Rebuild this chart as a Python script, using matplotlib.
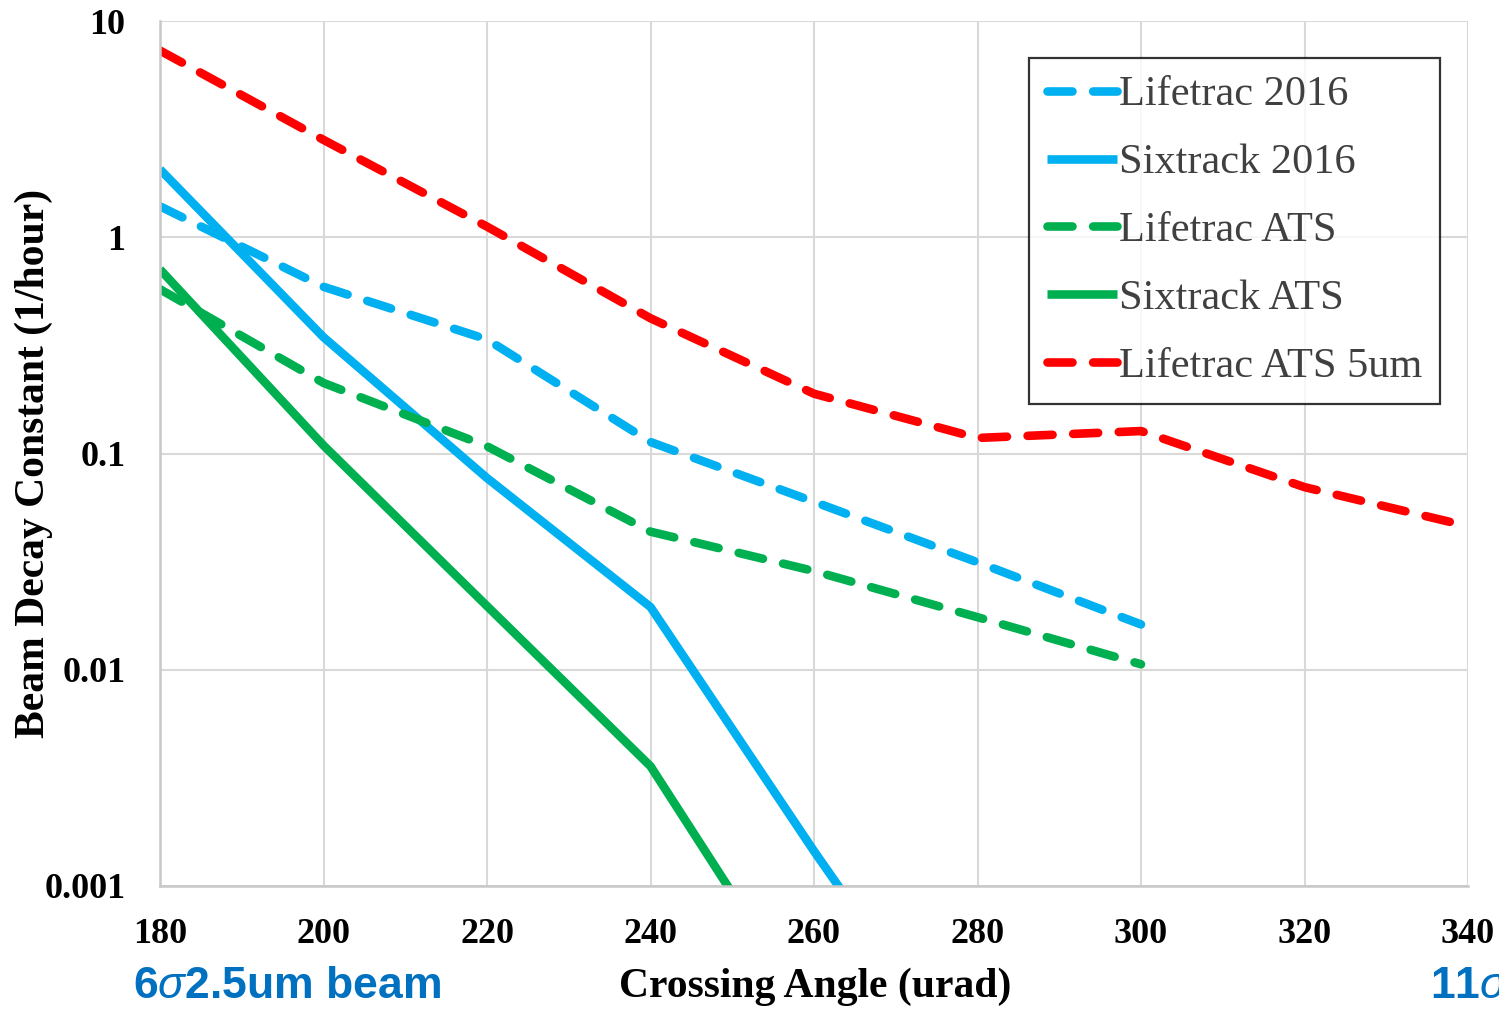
import matplotlib
matplotlib.use("Agg")
import matplotlib.pyplot as plt
import numpy as np

# ---- data ----
angles = [180, 200, 220, 240, 260, 280, 300, 320, 340]

lifetrac_2016_x = [180, 200, 220, 240, 260, 280, 300]
lifetrac_2016 = [1.39, 0.59, 0.337, 0.113, 0.0598, 0.0314, 0.0162]

sixtrack_2016_x = [180, 200, 220, 240, 260, 280]
sixtrack_2016 = [2.06, 0.345, 0.077, 0.0195, 0.00145, 0.00012]

lifetrac_ats_x = [180, 200, 220, 240, 260, 280, 300]
lifetrac_ats = [0.575, 0.212, 0.108, 0.0435, 0.0286, 0.0175, 0.0106]

sixtrack_ats_x = [180, 200, 220, 240, 260]
sixtrack_ats = [0.71, 0.109, 0.0197, 0.00358, 0.00024]

lifetrac_ats5_x = [180, 200, 220, 240, 260, 280, 300, 320, 340]
lifetrac_ats5 = [7.3, 2.82, 1.12, 0.422, 0.189, 0.118, 0.127, 0.0699, 0.0461]

series_labels = ["Lifetrac 2016", "Sixtrack 2016", "Lifetrac ATS",
                 "Sixtrack ATS", "Lifetrac ATS 5um"]
y_ticks = [0.001, 0.01, 0.1, 1, 10]
y_tick_labels = ["0.001", "0.01", "0.1", "1", "10"]
x_ticks = angles

BLUE = "#00B0F0"
GREEN = "#00B050"
RED = "#FF0000"

plt.rcParams["mathtext.fontset"] = "custom"
plt.rcParams["mathtext.it"] = "Liberation Sans:italic"
plt.rcParams["mathtext.rm"] = "Liberation Sans:bold"

W, H = 1499, 1009
fig = plt.figure(figsize=(W / 100, H / 100), dpi=100)
ax = fig.add_axes([160 / W, 1 - 886 / H, (1468 - 160) / W, (886 - 21) / H])

lw = 6.2
dash = (0, (2.9, 2.4))
common = dict(linewidth=lw, dash_capstyle="round", solid_capstyle="butt",
              solid_joinstyle="round")

ax.plot(lifetrac_2016_x, lifetrac_2016, color=BLUE, linestyle=dash,
        label=series_labels[0], **common)
ax.plot(sixtrack_2016_x, sixtrack_2016, color=BLUE, linestyle="-",
        label=series_labels[1], **common)
ax.plot(lifetrac_ats_x, lifetrac_ats, color=GREEN, linestyle=dash,
        label=series_labels[2], **common)
ax.plot(sixtrack_ats_x, sixtrack_ats, color=GREEN, linestyle="-",
        label=series_labels[3], **common)
ax.plot(lifetrac_ats5_x, lifetrac_ats5, color=RED, linestyle=dash,
        label=series_labels[4], **common)

ax.set_yscale("log")
ax.set_xlim(180, 340)
ax.set_ylim(0.001, 10)
ax.set_xticks(x_ticks)
ax.set_xticklabels([str(v) for v in x_ticks])
ax.set_yticks(y_ticks)
ax.set_yticklabels(y_tick_labels)
ax.yaxis.set_minor_locator(matplotlib.ticker.NullLocator())

ax.grid(True, color="#d9d9d9", linewidth=1.5)
ax.set_axisbelow(True)
for s in ["top", "right"]:
    ax.spines[s].set_visible(False)
for s in ["left", "bottom"]:
    ax.spines[s].set_color("#c8c8c8")
    ax.spines[s].set_linewidth(1.8)

ax.tick_params(axis="both", length=0)
ax.tick_params(axis="x", pad=23)
ax.tick_params(axis="y", pad=25)
for lab in ax.get_xticklabels() + ax.get_yticklabels():
    lab.set_fontfamily("Liberation Serif")
    lab.set_fontweight("bold")
    lab.set_fontsize(26)

fig.text(815 / W, 1 - 987 / H, "Crossing Angle (urad)", fontsize=30,
         family="Liberation Serif", weight="bold", ha="center", va="center")
fig.text(34 / W, 1 - 463 / H, "Beam Decay Constant (1/hour)", fontsize=30,
         family="Liberation Serif", weight="bold", ha="center", va="center",
         rotation=90)

leg = ax.legend(loc="upper left", bbox_to_anchor=(1029 / W, 1 - 58 / H),
                bbox_transform=fig.transFigure, borderaxespad=0,
                fancybox=False, frameon=True, handlelength=1.65,
                handletextpad=0.06, labelspacing=0.69, borderpad=0.42,
                prop=dict(family="Liberation Serif", size=30.5))
leg.get_frame().set_edgecolor("black")
leg.get_frame().set_linewidth(1.6)
for t in leg.get_texts():
    t.set_color("#404040")

fig.text(133 / W, 1 - 987 / H, r"6$\sigma$2.5um beam", color="#0070C0",
         fontsize=32, family="Liberation Sans", weight="bold",
         ha="left", va="center")
fig.text(1430 / W, 1 - 987 / H, r"11$\sigma$", color="#0070C0",
         fontsize=32, family="Liberation Sans", weight="bold",
         ha="left", va="center")

fig.savefig("out.png", dpi=100)
